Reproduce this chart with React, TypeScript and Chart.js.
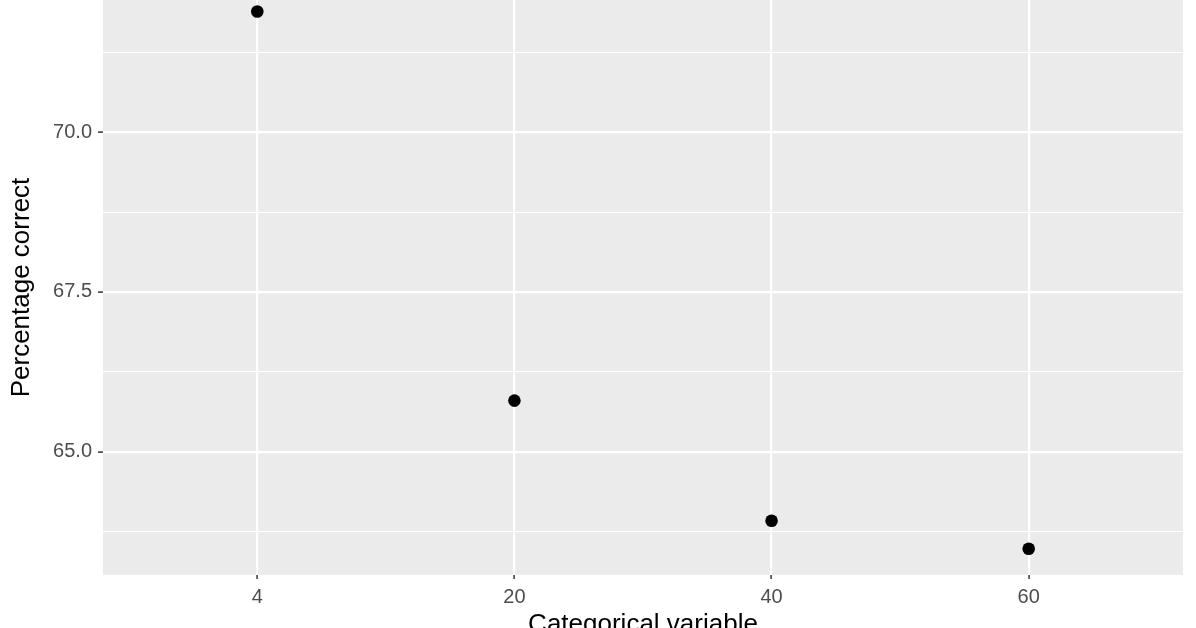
import { useEffect, useRef } from "react";
import { Chart, registerables } from "chart.js";

Chart.register(...registerables);

// values
const categories = ["4", "20", "40", "60"];
const percentCorrect = [71.89, 65.8, 63.92, 63.48];
const yMajorTicks = [65, 67.5, 70];
const yMinorTicks = [63.75, 66.25, 68.75, 71.25];

const FONT = "'Liberation Sans', Arial, Helvetica, sans-serif";

const panelBackground = {
    id: "panelBackground",
    beforeDraw(chart: any) {
        const { ctx, chartArea: a } = chart;
        ctx.save();
        ctx.fillStyle = "#EBEBEB";
        ctx.fillRect(a.left, a.top, a.right - a.left, a.bottom - a.top);
        ctx.restore();
    },
};

export const App = () => {
    const canvasRef: any = useRef(null);

    useEffect(() => {
        const ctx = canvasRef.current.getContext("2d");
        const isMajor = (v: number) => yMajorTicks.includes(v);

        const myChart = new Chart(ctx, {
            type: "scatter",
            data: {
                datasets: [{
                    label: "Percentage correct",
                    data: categories.map((_, i) => ({ x: i, y: percentCorrect[i] })),
                    backgroundColor: "#000000",
                    borderWidth: 0,
                    pointRadius: 6.3,
                    pointHoverRadius: 6.3,
                }],
            },
            options: {
                animation: false,
                responsive: false,
                devicePixelRatio: 1,
                events: [],
                layout: { autoPadding: false, padding: { left: 0, right: 13, top: 0, bottom: 0 } },
                plugins: {
                    legend: { display: false },
                    tooltip: { enabled: false },
                },
                scales: {
                    x: {
                        type: "linear",
                        min: -0.6,
                        max: 3.6,
                        afterBuildTicks: (scale: any) => {
                            scale.ticks = categories.map((_, i) => ({ value: i }));
                        },
                        afterFit: (scale: any) => {
                            scale.height = 85;
                            scale.paddingLeft = 0;
                            scale.paddingRight = 0;
                        },
                        border: { display: false },
                        grid: {
                            color: "#FFFFFF",
                            lineWidth: 2.2,
                            tickColor: "#333333",
                            tickLength: 4,
                            tickWidth: 1.5,
                        },
                        ticks: {
                            autoSkip: false,
                            maxRotation: 0,
                            padding: 6,
                            color: "#4D4D4D",
                            font: { family: FONT, size: 20 },
                            callback: (_v: any, i: number) => categories[i],
                        },
                        title: {
                            display: true,
                            text: "Categorical variable",
                            color: "#000000",
                            font: { family: FONT, size: 26 },
                            padding: { top: 0, bottom: 20 },
                        },
                    },
                    y: {
                        type: "linear",
                        min: 63.07,
                        max: 72.07,
                        afterBuildTicks: (scale: any) => {
                            scale.ticks = [...yMajorTicks, ...yMinorTicks]
                                .sort((a, b) => a - b)
                                .map((v) => ({ value: v }));
                        },
                        afterFit: (scale: any) => {
                            scale.width = 103;
                            scale.paddingTop = 0;
                            scale.paddingBottom = 0;
                        },
                        border: { display: false },
                        grid: {
                            color: "#FFFFFF",
                            lineWidth: (c: any) => (isMajor(c.tick?.value) ? 2.2 : 1.1),
                            tickColor: (c: any) => (isMajor(c.tick?.value) ? "#333333" : "rgba(0,0,0,0)"),
                            tickLength: 5,
                            tickWidth: 1.5,
                        },
                        ticks: {
                            padding: 6,
                            color: "#4D4D4D",
                            font: { family: FONT, size: 20 },
                            callback: (v: any) => (isMajor(v) ? Number(v).toFixed(1) : ""),
                        },
                        title: {
                            display: true,
                            text: "Percentage correct",
                            color: "#000000",
                            font: { family: FONT, size: 26 },
                            padding: { top: 6, bottom: 0 },
                        },
                    },
                },
            },
            plugins: [panelBackground],
        } as any);

        return () => {
            myChart.destroy();
        };
    }, []);

    return (
        <div style={{ position: "fixed", left: 0, top: 0, width: 1196, height: 628, overflow: "hidden", background: "#FFFFFF" }}>
            <canvas ref={canvasRef} width={1196} height={660} style={{ display: "block" }}></canvas>
        </div>
    );
};

export default App;
